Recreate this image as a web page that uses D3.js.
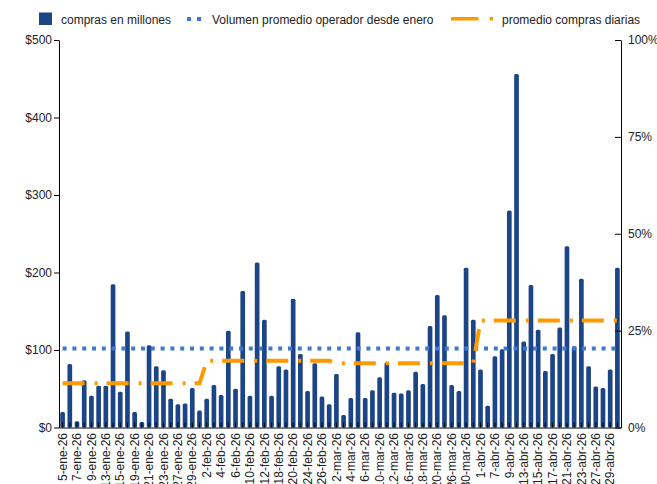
<!DOCTYPE html>
<html>
<head>
<meta charset="utf-8">
<script src="https://cdn.jsdelivr.net/npm/d3@7"></script>
<style>
  html, body { margin: 0; padding: 0; background: #fff; }
  svg { display: block; font-family: "Liberation Sans", Arial, sans-serif; }
</style>
</head>
<body>
<svg id="chart" width="657" height="484"></svg>
<script>
// ---------- DATA ----------
const categories = [
  "5-ene-26","6-ene-26","7-ene-26","8-ene-26","9-ene-26","12-ene-26","13-ene-26","14-ene-26","15-ene-26","16-ene-26",
  "19-ene-26","20-ene-26","21-ene-26","22-ene-26","23-ene-26","26-ene-26","27-ene-26","28-ene-26","29-ene-26","30-ene-26",
  "2-feb-26","3-feb-26","4-feb-26","5-feb-26","6-feb-26","9-feb-26","10-feb-26","11-feb-26","12-feb-26","13-feb-26",
  "18-feb-26","19-feb-26","20-feb-26","23-feb-26","24-feb-26","25-feb-26","26-feb-26","27-feb-26",
  "2-mar-26","3-mar-26","4-mar-26","5-mar-26","6-mar-26","9-mar-26","10-mar-26","11-mar-26","12-mar-26","13-mar-26",
  "16-mar-26","17-mar-26","18-mar-26","19-mar-26","20-mar-26","25-mar-26","26-mar-26","27-mar-26","30-mar-26","31-mar-26",
  "1-abr-26","6-abr-26","7-abr-26","8-abr-26","9-abr-26","10-abr-26","13-abr-26","14-abr-26","15-abr-26","16-abr-26",
  "17-abr-26","20-abr-26","21-abr-26","22-abr-26","23-abr-26","24-abr-26","27-abr-26","28-abr-26","29-abr-26","30-abr-26"
];

const comprasEnMillones = [
  20, 82, 8, 61, 41, 54, 54, 185, 46, 124, 20, 7, 106, 79, 74, 37, 30, 31, 51, 22,
  37, 55, 42, 125, 50, 176, 41, 213, 139, 41, 79, 75, 166, 95, 47, 83, 40, 30,
  69, 16, 38, 123, 38, 48, 65, 84, 45, 44, 48, 72, 56, 131, 171, 145, 55, 47, 206, 139,
  75, 28, 92, 101, 280, 456, 111, 184, 126, 73, 95, 129, 234, 105, 192, 79, 53, 51, 75, 206
];

const volumenPromedioOperador = [
  102,102,102,102,102,102,102,102,102,102,102,102,102,102,102,102,102,102,102,102,
  102,102,102,102,102,102,102,102,102,102,102,102,102,102,102,102,102,102,
  102,102,102,102,102,102,102,102,102,102,102,102,102,102,102,102,102,102,102,102,
  102,102,102,102,102,102,102,102,102,102,102,102,102,102,102,102,102,102,102,102
];

const promedioComprasDiarias = [
  57,57,57,57,57,57,57,57,57,57,57,57,57,57,57,57,57,57,57,57,
  86,86,86,86,86,86,86,86,86,86,86,86,86,86,86,86,86,86,
  83,83,83,83,83,83,83,83,83,83,83,83,83,83,83,83,83,83,83,83,
  138,138,138,138,138,138,138,138,138,138,138,138,138,138,138,138,138,138,138,138
];

const leftTicks = [0, 100, 200, 300, 400, 500];
const rightTicks = [0, 0.25, 0.5, 0.75, 1];
const seriesNames = ["compras en millones", "Volumen promedio operador desde enero", "promedio compras diarias"];

// ---------- LAYOUT ----------
(function () {
const svg = d3.select("#chart");
const mLeft = 59, mRight = 621, mTop = 40, mBottom = 427.5;
const barColor = "#1c4587", blueColor = "#3c78d8", orangeColor = "#ff9900";
const textColor = "#222";

const x = d3.scaleBand().domain(categories).range([mLeft, mRight]).paddingInner(0.35).paddingOuter(0.175);
const y = d3.scaleLinear().domain([0, 500]).range([mBottom, mTop]);
const y2 = d3.scaleLinear().domain([0, 1]).range([mBottom, mTop]);
const cx = d => x(d) + x.bandwidth() / 2;

// bars
svg.append("g").selectAll("rect").data(categories).join("rect")
  .attr("x", d => x(d))
  .attr("y", (d, i) => y(comprasEnMillones[i]))
  .attr("width", x.bandwidth())
  .attr("height", (d, i) => y(0) - y(comprasEnMillones[i]))
  .attr("rx", 1.5)
  .attr("fill", barColor);

const line = d3.line().x((d, i) => cx(categories[i])).y(d => y(d));

// blue dotted line
svg.append("path").datum(volumenPromedioOperador)
  .attr("d", line)
  .attr("fill", "none").attr("stroke", blueColor)
  .attr("stroke-width", 4).attr("stroke-dasharray", "4,5.8");

// orange dash-dot line
svg.append("path").datum(promedioComprasDiarias)
  .attr("d", line)
  .attr("fill", "none").attr("stroke", orangeColor)
  .attr("stroke-width", 4).attr("stroke-dasharray", "22,10,3,9");

// x axis
const xAxis = svg.append("g").attr("transform", `translate(0,${mBottom})`)
  .call(d3.axisBottom(x).tickSizeInner(-5).tickSizeOuter(0).tickFormat(""));
xAxis.select(".domain").attr("stroke", "#000");
xAxis.selectAll(".tick line").attr("stroke", "#000");

svg.append("g").selectAll("text").data(categories.filter((d, i) => i % 2 === 0)).join("text")
  .attr("transform", d => `translate(${cx(d) + 4.2},${mBottom + 5.5}) rotate(-90)`)
  .attr("text-anchor", "end")
  .attr("font-size", 12)
  .attr("fill", textColor)
  .text(d => d);

// left axis
const yAxis = svg.append("g").attr("transform", `translate(${mLeft},0)`)
  .call(d3.axisLeft(y).tickValues(leftTicks).tickSizeInner(5).tickSizeOuter(0).tickPadding(2).tickFormat(d => "$" + d));
yAxis.select(".domain").attr("stroke", "#000");
yAxis.selectAll(".tick line").attr("stroke", "#000");
yAxis.selectAll("text").attr("font-size", 12).attr("fill", textColor).attr("font-family", "Liberation Sans, Arial, sans-serif");

// right axis
const y2Axis = svg.append("g").attr("transform", `translate(${mRight},0)`)
  .call(d3.axisRight(y2).tickValues(rightTicks).tickSizeInner(-6).tickSizeOuter(0).tickPadding(7).tickFormat(d3.format(".0%")));
y2Axis.select(".domain").attr("stroke", "#000");
y2Axis.selectAll(".tick line").attr("stroke", "#000");
y2Axis.selectAll("text").attr("font-size", 12).attr("fill", textColor).attr("font-family", "Liberation Sans, Arial, sans-serif");

// legend
const lg = svg.append("g").attr("font-size", 12).attr("fill", textColor);
lg.append("rect").attr("x", 39).attr("y", 12.5).attr("width", 13).attr("height", 12.5).attr("fill", barColor);
lg.append("text").attr("x", 61).attr("y", 23.5).text(seriesNames[0]);
lg.append("rect").attr("x", 187).attr("y", 17).attr("width", 4).attr("height", 4).attr("fill", blueColor);
lg.append("rect").attr("x", 197).attr("y", 17).attr("width", 4).attr("height", 4).attr("fill", blueColor);
lg.append("text").attr("x", 212).attr("y", 23.5).text(seriesNames[1]);
lg.append("rect").attr("x", 451).attr("y", 17).attr("width", 27.5).attr("height", 3.5).attr("fill", orangeColor);
lg.append("rect").attr("x", 489.5).attr("y", 17).attr("width", 3.5).attr("height", 3.5).attr("fill", orangeColor);
lg.append("text").attr("x", 502).attr("y", 23.5).text(seriesNames[2]);
})();
</script>
</body>
</html>
